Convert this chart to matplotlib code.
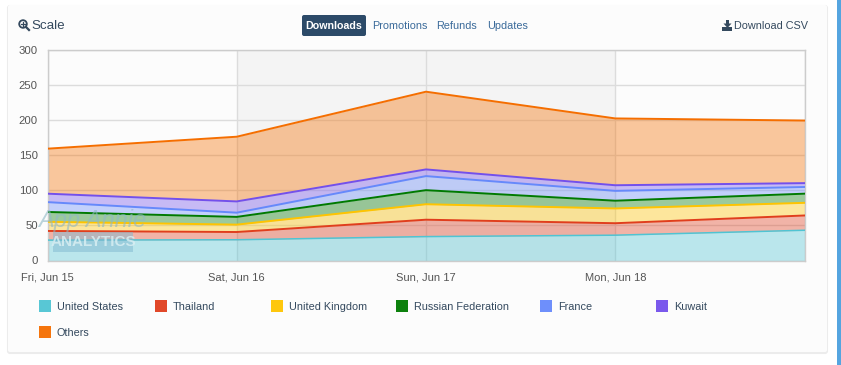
import matplotlib
matplotlib.use("Agg")
import matplotlib.pyplot as plt
from matplotlib.patches import Rectangle, FancyBboxPatch, Circle
from matplotlib.lines import Line2D

plt.rcParams['font.family'] = ['Liberation Sans', 'DejaVu Sans']

# data (values are the stacked tops)
days = ["Fri, Jun 15", "Sat, Jun 16", "Sun, Jun 17", "Mon, Jun 18", ""]
yticks = [0, 50, 100, 150, 200, 250, 300]
names = ["United States", "Thailand", "United Kingdom", "Russian Federation",
         "France", "Kuwait", "Others"]
united_states = [29, 29.5, 34, 36, 43]
thailand = [42, 40.5, 58, 53, 64]
united_kingdom = [55, 51, 80, 74, 82]
russian_federation = [69, 62, 100, 85, 95]
france = [83, 68, 120, 99, 104.5]
kuwait = [95, 84, 129.5, 107, 110]
others = [159, 176, 240, 202, 199]
tabs = ["Promotions", "Refunds", "Updates"]

colors = ["#4fc4d3", "#e03e1d", "#ffc400", "#007a00", "#6689fb", "#7350ec", "#f56e00"]
stacks = [united_states, thailand, united_kingdom, russian_federation, france, kuwait, others]

W, H = 841, 365
dark = "#34495e"
link = "#3a6a9a"
xs = list(range(len(days)))


def fx(x):
    return x / W


def fy(y):
    return 1 - y / H


fig = plt.figure(figsize=(W / 100, H / 100), dpi=100, facecolor="white")

# page furniture, in pixels from the top left
bg = fig.add_axes([0, 0, 1, 1], zorder=0)
bg.set_xlim(0, W)
bg.set_ylim(H, 0)
bg.axis("off")
bg.add_patch(Rectangle((837, 0), 4, H, color="#55a5e0", lw=0))
bg.add_patch(FancyBboxPatch((8, 6), 819, 347, boxstyle="round,pad=0,rounding_size=2",
                            fc="#e6e6e6", ec="#ececec", lw=1.5))
bg.add_patch(FancyBboxPatch((8, 5), 819, 347, boxstyle="round,pad=0,rounding_size=2",
                            fc="#fcfcfc", ec="none"))

# chart
ax = fig.add_axes([fx(47.5), fy(260.5), (804.5 - 47.5) / W, 211 / H], zorder=1)
ax.patch.set_alpha(0)
ax.set_xlim(0, 4)
ax.set_ylim(0, 300)
ax.axvspan(1, 3, color="#f4f4f4", lw=0, zorder=0)
ax.grid(True, color="#dcdcdc", lw=1, zorder=1)
ax.set_axisbelow(True)
for s in ax.spines.values():
    s.set_color("#cccccc")
    s.set_linewidth(1)

lower = [0] * len(days)
for top, c in zip(stacks, colors):
    ax.fill_between(xs, lower, top, color=c, alpha=0.38, lw=0, zorder=2)
    ax.plot(xs, top, color=c, lw=1.4 if c != colors[0] else 1.1, zorder=3, solid_joinstyle="miter")
    lower = top

ax.set_xticks(xs)
ax.set_xticklabels(days)
ax.set_yticks(yticks)
ax.tick_params(length=0, labelcolor="#555555")
ax.tick_params(axis="x", pad=9, labelsize=8)
ax.tick_params(axis="y", pad=7, labelsize=8.2)

# watermark and header sit on their own overlay
top_ax = fig.add_axes([0, 0, 1, 1], zorder=2)
top_ax.set_xlim(0, W)
top_ax.set_ylim(H, 0)
top_ax.axis("off")
top_ax.text(92, 220, "App Annie", fontsize=17, style="italic", color="#8fb8c6", alpha=0.6,
            ha="center", va="center", family=["Liberation Sans Narrow", "Liberation Sans"])
top_ax.add_patch(Rectangle((53, 232), 80, 20, color="#7fb8d0", alpha=0.5, lw=0))
top_ax.text(93, 242, "ANALYTICS", fontsize=11, weight="bold", color="#d8eef2", ha="center",
            va="center", alpha=0.85, family=["Liberation Sans Narrow", "Liberation Sans"])

top_ax.add_patch(Circle((23, 24), 3.8, fc="none", ec=dark, lw=1.3))
top_ax.add_line(Line2D([26, 29], [27, 30], color=dark, lw=1.6))
top_ax.add_line(Line2D([21, 25], [24, 24], color=dark, lw=0.9))
top_ax.add_line(Line2D([23, 23], [22, 26], color=dark, lw=0.9))
top_ax.text(31, 29, "Scale", fontsize=9.6, color=dark, va="baseline")

top_ax.add_patch(FancyBboxPatch((302, 15), 64, 21, boxstyle="round,pad=0,rounding_size=2",
                                fc="#2c4a68", ec="none"))
top_ax.text(334, 29, "Downloads", fontsize=7.7, weight="bold", color="white", ha="center", va="baseline")
for t, x in zip(tabs, [372, 436, 487.5]):
    top_ax.text(x, 29, t, fontsize=7.8, color=link, va="baseline")

top_ax.add_patch(Rectangle((722.5, 27), 10, 3.5, color=dark, lw=0))
top_ax.add_patch(Rectangle((726, 19.5), 3, 4, color=dark, lw=0))
top_ax.fill([723.5, 731.5, 727.5], [23.5, 23.5, 28], color=dark, lw=0)
top_ax.text(734, 29, "Download CSV", fontsize=7.8, color=dark, va="baseline")

# legend
legend_x = [39, 155, 271, 396, 540, 656, 39]
legend_y = [306, 306, 306, 306, 306, 306, 332]
for n, c, x, y in zip(names, colors, legend_x, legend_y):
    top_ax.add_patch(Rectangle((x, y - 6), 12, 12, color=c, alpha=0.95, lw=0))
    top_ax.text(x + 18, y + 4, n, fontsize=7.8, color=dark, va="baseline")

fig.savefig("out.png", dpi=100)
